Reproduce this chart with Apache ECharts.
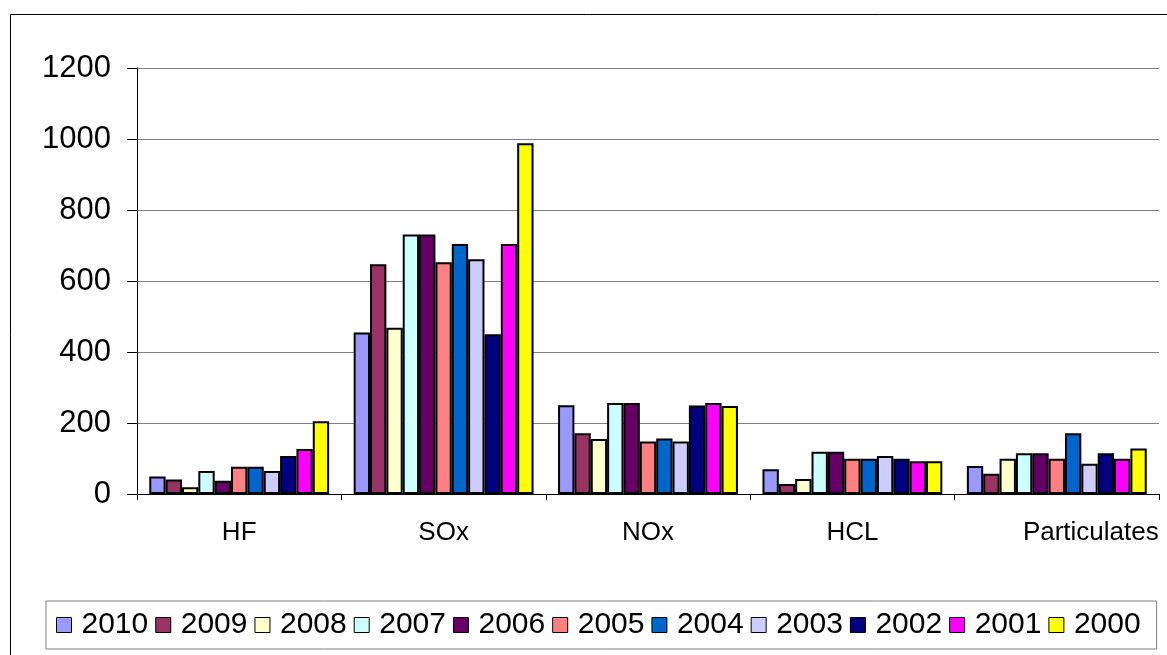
<!DOCTYPE html>
<html>
<head>
<meta charset="utf-8">
<script src="https://cdn.jsdelivr.net/npm/echarts@6/dist/echarts.min.js"></script>
<style>
html,body{margin:0;padding:0;background:#fff;}
#chart{width:1167px;height:655px;}
</style>
</head>
<body>
<div id="chart"></div>
<script>
const categories = ['HF', 'SOx', 'NOx', 'HCL', 'Particulates'];
const years = ['2010', '2009', '2008', '2007', '2006', '2005', '2004', '2003', '2002', '2001', '2000'];
const v2010 = [49, 455, 250, 70, 79];
const v2009 = [41, 647, 171, 28, 57];
const v2008 = [19, 468, 155, 42, 99];
const v2007 = [65, 731, 256, 119, 115];
const v2006 = [37, 731, 256, 119, 115];
const v2005 = [77, 653, 148, 99, 99];
const v2004 = [77, 704, 156, 99, 171];
const v2003 = [65, 661, 148, 107, 85];
const v2002 = [107, 450, 249, 99, 115];
const v2001 = [127, 704, 256, 92, 99];
const v2000 = [205, 988, 248, 92, 128];
const yTicks = [0, 200, 400, 600, 800, 1000, 1200];

const seriesValues = [v2010, v2009, v2008, v2007, v2006, v2005, v2004, v2003, v2002, v2001, v2000];
const colors = ['#9999FF', '#993366', '#FFFFCC', '#CCFFFF', '#660066', '#FF8080',
                '#0066CC', '#CCCCFF', '#000080', '#FF00FF', '#FFFF00'];
const FONT = '"Liberation Sans", Arial, sans-serif';

const chart = echarts.init(document.getElementById('chart'), null, {renderer: 'canvas'});
chart.setOption({
  animation: false,
  backgroundColor: '#fff',
  color: colors,
  graphic: [{
    type: 'rect',
    shape: {x: 10.5, y: 14.5, width: 1200, height: 700},
    style: {fill: 'none', stroke: '#000', lineWidth: 1},
    silent: true, z: -1
  }],
  grid: {left: 137, right: 8, top: 68, bottom: 161, containLabel: false},
  legend: {
    data: years,
    left: 46, top: 601,
    orient: 'horizontal',
    itemWidth: 15, itemHeight: 15, itemGap: 7,
    icon: 'rect',
    padding: [9, 16, 9, 10],
    borderColor: '#808080', borderWidth: 1,
    itemStyle: {borderColor: '#000', borderWidth: 1},
    textStyle: {fontFamily: FONT, fontSize: 30, color: '#000', padding: [0, 0, 0, 5]}
  },
  xAxis: {
    type: 'category',
    data: categories,
    axisLine: {lineStyle: {color: '#000', width: 1}},
    axisTick: {show: true, length: 6, interval: 0, lineStyle: {color: '#000'}},
    axisLabel: {
      fontFamily: FONT, fontSize: 26, color: '#000', margin: 26, interval: 0,
      formatter: function (v) { return v === 'Particulates' ? '{p|' + v + '}' : v; },
      rich: {p: {fontFamily: FONT, fontSize: 26, color: '#000', padding: [0, 0, 0, 68]}}
    },
    splitLine: {show: false}
  },
  yAxis: {
    type: 'value',
    min: 0, max: 1200, interval: 200,
    axisLine: {show: true, lineStyle: {color: '#000', width: 1}},
    axisTick: {show: true, length: 10, lineStyle: {color: '#000'}},
    axisLabel: {
      fontFamily: FONT, fontSize: 31, color: '#000', margin: 26,
      formatter: function (v) { return yTicks.indexOf(v) >= 0 ? String(v) : ''; }
    },
    splitLine: {show: true, lineStyle: {color: '#808080', width: 1}}
  },
  series: years.map(function (y, i) {
    return {
      name: y,
      type: 'bar',
      data: seriesValues[i],
      barGap: '0%',
      barCategoryGap: '12%',
      itemStyle: {color: colors[i], borderColor: '#000', borderWidth: 2}
    };
  })
});
</script>
</body>
</html>
